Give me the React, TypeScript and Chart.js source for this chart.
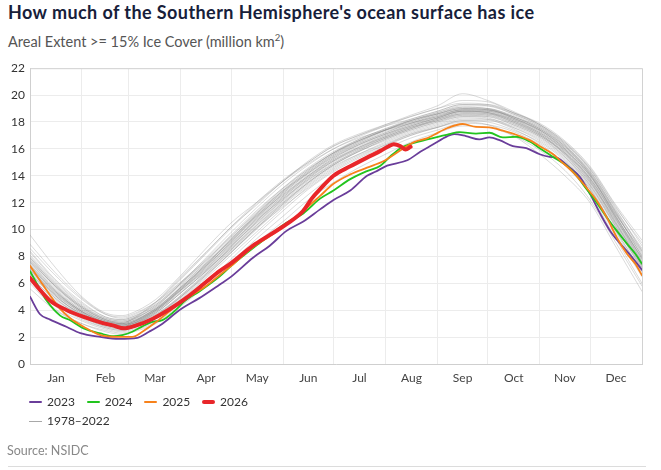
import React, { useEffect, useRef } from "react";
import { Chart, registerables } from "chart.js";

Chart.register(...registerables);

const FONT = "Lato, 'Open Sans', sans-serif";

const MONTHS = ["Jan", "Feb", "Mar", "Apr", "May", "Jun", "Jul", "Aug", "Sep", "Oct", "Nov", "Dec"];
const MONTH_STARTS = [0, 31, 59, 90, 120, 151, 181, 212, 243, 273, 304, 334, 365];
const Y_TICKS = [0, 2, 4, 6, 8, 10, 12, 14, 16, 18, 20, 22];

// Day-of-year sample positions for the historical (1978–2022) lines
const GRAY_DAYS = [0, 15, 31, 45, 55, 59, 75, 90, 105, 120, 135, 151, 166, 181, 196, 212, 227, 243, 258, 273, 288, 304, 319, 334, 349, 365];

const GRAY_YEARS: number[][] = [
  [9.6, 7.2, 5.0, 3.8, 3.6, 3.7, 4.8, 6.6, 8.6, 10.5, 12.0, 13.6, 14.9, 16.0, 16.8, 17.4, 17.9, 18.4, 18.8, 18.7, 18.1, 17.2, 15.9, 14.0, 11.2, 8.3],
  [8.3, 6.2, 4.5, 3.5, 3.3, 3.4, 4.4, 6.0, 7.6, 9.4, 11.0, 12.6, 14.0, 15.2, 16.1, 16.9, 17.6, 18.2, 18.7, 18.6, 18.0, 17.0, 15.6, 13.5, 10.8, 7.9],
  [7.8, 5.8, 4.2, 3.3, 3.1, 3.2, 4.3, 5.9, 7.5, 9.3, 11.1, 12.9, 14.4, 15.7, 16.6, 17.4, 18.0, 18.6, 19.0, 19.0, 18.4, 17.5, 16.2, 14.3, 11.5, 8.6],
  [7.5, 5.6, 4.0, 3.2, 3.0, 3.2, 4.6, 6.5, 8.3, 10.2, 11.8, 13.6, 15.0, 16.2, 17.0, 17.8, 18.5, 19.2, 20.1, 19.6, 18.8, 17.8, 16.4, 14.4, 11.4, 8.0],
  [7.0, 5.2, 3.8, 3.0, 2.8, 2.9, 3.9, 5.4, 7.0, 8.8, 10.6, 12.4, 13.9, 15.1, 16.0, 16.8, 17.5, 18.1, 18.5, 18.4, 17.8, 16.9, 15.4, 13.2, 10.2, 7.1],
  [6.2, 4.3, 3.2, 2.6, 2.4, 2.5, 3.2, 4.5, 6.0, 7.6, 9.3, 11.0, 12.6, 14.0, 15.1, 16.0, 16.8, 17.4, 17.9, 17.8, 17.3, 16.3, 14.8, 12.6, 9.4, 6.0],
  [6.8, 5.0, 3.7, 2.9, 2.7, 2.8, 3.6, 5.1, 6.8, 8.5, 10.2, 12.0, 13.5, 14.8, 15.8, 16.6, 17.3, 17.9, 18.4, 18.3, 17.6, 16.6, 15.2, 13.0, 10.0, 6.8],
  [7.2, 5.4, 3.9, 3.1, 2.9, 3.0, 4.0, 5.6, 7.3, 9.0, 10.8, 12.5, 14.0, 15.3, 16.3, 17.1, 17.8, 18.4, 18.9, 18.8, 18.2, 17.2, 15.8, 13.7, 10.6, 7.4],
  [6.6, 4.7, 3.5, 2.8, 2.6, 2.7, 3.5, 4.9, 6.5, 8.3, 10.0, 11.8, 13.3, 14.6, 15.6, 16.5, 17.2, 17.8, 18.3, 18.2, 17.5, 16.4, 14.9, 12.7, 9.7, 6.5],
  [8.0, 6.0, 4.3, 3.4, 3.2, 3.3, 4.2, 5.7, 7.3, 9.0, 10.7, 12.3, 13.7, 14.9, 15.9, 16.8, 17.5, 18.2, 18.6, 18.5, 17.9, 17.0, 15.7, 13.8, 11.0, 8.1],
  [7.4, 5.5, 4.0, 3.2, 3.0, 3.1, 4.1, 5.8, 7.5, 9.2, 11.0, 12.8, 14.3, 15.6, 16.5, 17.3, 17.9, 18.5, 18.9, 18.9, 18.3, 17.4, 16.0, 13.9, 10.9, 7.6],
  [6.0, 4.1, 3.0, 2.4, 2.2, 2.3, 3.0, 4.3, 5.8, 7.4, 9.0, 10.6, 12.2, 13.5, 14.6, 15.6, 16.5, 17.2, 17.7, 17.6, 17.0, 15.9, 14.4, 12.2, 9.1, 5.8],
  [7.6, 5.7, 4.1, 3.2, 3.0, 3.1, 4.0, 5.5, 7.1, 8.8, 10.5, 12.2, 13.7, 15.0, 16.0, 16.9, 17.6, 18.2, 18.7, 18.7, 18.1, 17.1, 15.7, 13.6, 10.5, 7.3],
  [7.3, 5.3, 3.9, 3.1, 2.9, 3.0, 4.2, 6.0, 7.9, 9.8, 11.6, 13.4, 14.8, 16.0, 16.9, 17.7, 18.4, 19.0, 19.6, 19.5, 18.7, 17.8, 16.5, 14.6, 11.8, 8.8],
  [7.9, 5.9, 4.3, 3.3, 3.0, 3.0, 3.7, 5.0, 6.6, 8.3, 10.1, 11.9, 13.4, 14.7, 15.6, 16.4, 17.1, 17.6, 18.0, 17.8, 17.0, 15.6, 14.0, 12.0, 8.8, 5.4],
  [6.9, 5.1, 3.6, 2.9, 2.7, 2.8, 3.8, 5.3, 6.9, 8.6, 10.4, 12.2, 13.8, 15.1, 16.1, 16.9, 17.6, 18.1, 18.6, 18.6, 18.0, 17.1, 15.6, 13.4, 10.4, 7.2],
  [8.6, 6.6, 4.8, 3.7, 3.5, 3.6, 4.6, 6.1, 7.7, 9.5, 11.2, 12.9, 14.2, 15.4, 16.3, 17.1, 17.7, 18.3, 18.8, 18.7, 18.2, 17.4, 16.1, 14.1, 11.2, 8.4],
  [7.1, 5.3, 3.8, 3.0, 2.8, 2.9, 3.9, 5.5, 7.2, 8.9, 10.7, 12.5, 14.0, 15.3, 16.3, 17.1, 17.8, 18.3, 18.8, 18.8, 18.3, 17.4, 16.0, 14.0, 11.1, 7.8],
  [6.4, 4.6, 3.4, 2.7, 2.5, 2.6, 3.4, 4.8, 6.4, 8.1, 9.8, 11.6, 13.2, 14.5, 15.5, 16.3, 17.0, 17.6, 18.1, 18.0, 17.4, 16.5, 15.1, 13.0, 10.0, 6.9],
  [7.7, 5.8, 4.2, 3.3, 3.1, 3.2, 4.3, 6.0, 7.7, 9.5, 11.3, 13.1, 14.6, 15.8, 16.7, 17.5, 18.1, 18.7, 19.2, 19.2, 18.6, 17.7, 16.3, 14.2, 11.3, 8.2],
  [6.7, 4.9, 3.6, 2.9, 2.7, 2.8, 3.7, 5.1, 6.7, 8.4, 10.1, 11.7, 13.1, 14.4, 15.4, 16.3, 17.1, 17.7, 18.2, 18.2, 17.7, 16.8, 15.4, 13.3, 10.3, 7.0],
  [8.1, 6.1, 4.4, 3.4, 3.2, 3.3, 4.4, 6.1, 7.8, 9.6, 11.4, 13.1, 14.5, 15.7, 16.6, 17.4, 18.0, 18.6, 19.1, 19.0, 18.5, 17.6, 16.3, 14.3, 11.4, 8.5],
  [5.6, 4.0, 3.0, 2.5, 2.3, 2.4, 3.1, 4.4, 6.0, 7.8, 9.6, 11.4, 13.0, 14.3, 15.3, 16.2, 17.0, 17.6, 18.1, 18.1, 17.6, 16.7, 15.3, 13.1, 9.9, 6.6],
  [7.4, 5.4, 3.9, 3.1, 2.9, 3.0, 4.0, 5.6, 7.2, 9.1, 10.9, 12.7, 14.2, 15.5, 16.4, 17.2, 17.9, 18.4, 18.9, 18.9, 18.3, 17.3, 15.9, 13.8, 10.8, 7.5],
  [8.9, 6.8, 4.9, 3.7, 3.4, 3.5, 4.6, 6.4, 8.3, 10.2, 12.0, 13.7, 15.0, 16.2, 17.0, 17.7, 18.2, 18.8, 19.3, 19.2, 18.6, 17.7, 16.4, 14.5, 11.7, 9.0],
  [7.2, 5.1, 3.7, 3.0, 2.8, 2.9, 4.0, 5.7, 7.4, 9.2, 11.0, 12.8, 14.3, 15.6, 16.6, 17.4, 18.1, 18.7, 19.1, 19.0, 18.4, 17.5, 16.1, 14.1, 11.0, 7.7],
  [6.5, 4.8, 3.6, 2.9, 2.7, 2.8, 3.8, 5.3, 6.9, 8.7, 10.5, 12.3, 13.8, 15.1, 16.1, 17.0, 17.7, 18.3, 18.8, 18.8, 18.2, 17.3, 15.9, 13.8, 10.9, 7.6],
  [7.9, 5.9, 4.2, 3.3, 3.1, 3.2, 4.1, 5.5, 7.0, 8.6, 10.3, 12.0, 13.5, 14.8, 15.8, 16.7, 17.4, 18.0, 18.5, 18.5, 17.9, 17.0, 15.6, 13.5, 10.5, 7.4],
  [7.0, 5.1, 3.7, 3.0, 2.8, 2.9, 3.9, 5.5, 7.1, 8.9, 10.8, 12.7, 14.2, 15.5, 16.5, 17.4, 18.1, 18.6, 19.0, 18.9, 18.4, 17.5, 16.2, 14.2, 11.3, 8.0],
  [7.6, 5.5, 3.9, 3.1, 2.9, 3.0, 4.0, 5.6, 7.3, 9.1, 10.9, 12.6, 14.1, 15.4, 16.4, 17.2, 17.9, 18.5, 18.9, 18.9, 18.3, 17.4, 16.0, 14.0, 11.0, 7.9],
  [6.3, 4.5, 3.3, 2.7, 2.5, 2.6, 3.5, 5.0, 6.7, 8.5, 10.3, 12.1, 13.6, 14.9, 15.9, 16.8, 17.5, 18.1, 18.6, 18.6, 18.0, 17.1, 15.7, 13.6, 10.6, 7.3],
  [8.4, 6.3, 4.6, 3.5, 3.3, 3.4, 4.5, 6.3, 8.2, 10.1, 11.9, 13.6, 15.1, 16.3, 17.1, 17.8, 18.4, 19.0, 19.4, 19.3, 18.7, 17.9, 16.6, 14.7, 11.9, 9.2],
  [7.3, 5.4, 3.9, 3.1, 2.9, 3.0, 4.1, 5.7, 7.4, 9.2, 11.1, 12.9, 14.4, 15.7, 16.6, 17.4, 18.1, 18.6, 19.0, 18.9, 18.4, 17.6, 16.2, 14.1, 11.1, 7.8],
  [6.8, 4.9, 3.5, 2.8, 2.6, 2.7, 3.6, 5.0, 6.6, 8.3, 10.1, 11.9, 13.5, 14.8, 15.8, 16.7, 17.4, 18.0, 18.4, 18.4, 17.8, 16.9, 15.5, 13.3, 10.3, 7.2],
  [7.7, 5.8, 4.1, 3.2, 3.0, 3.1, 4.1, 5.7, 7.4, 9.3, 11.2, 13.0, 14.5, 15.7, 16.7, 17.5, 18.2, 18.8, 19.3, 19.3, 18.7, 17.8, 16.5, 14.5, 11.6, 8.4],
  [7.1, 5.2, 3.8, 3.0, 2.8, 2.9, 3.8, 5.3, 6.9, 8.7, 10.6, 12.4, 13.9, 15.2, 16.2, 17.0, 17.7, 18.3, 18.8, 18.7, 18.1, 17.2, 15.8, 13.7, 10.7, 7.5],
];

const D2023 = [0, 6, 12, 22, 30, 42, 53, 64, 71, 79, 89, 101, 113, 120, 133, 143, 153, 163, 173, 181, 191, 201, 206, 213, 225, 233, 240, 249, 253, 260, 268, 274, 280, 288, 296, 304, 310, 314, 322, 328, 334, 340, 346, 352, 358, 365];
const V2023 = [5.0, 3.7, 3.3, 2.75, 2.3, 2.02, 1.87, 1.95, 2.4, 3.0, 4.0, 4.9, 5.9, 6.5, 7.9, 8.8, 9.9, 10.6, 11.5, 12.2, 12.9, 14.0, 14.3, 14.75, 15.15, 15.8, 16.3, 16.95, 17.1, 16.95, 16.7, 16.85, 16.65, 16.2, 16.05, 15.6, 15.4, 15.35, 14.6, 13.9, 12.65, 11.2, 9.9, 8.95, 8.1, 7.0];

const D2024 = [0, 4, 10, 18, 24, 32, 42, 50, 55, 61, 67, 73, 79, 85, 93, 101, 113, 120, 137, 153, 163, 173, 181, 191, 201, 209, 215, 221, 229, 237, 245, 250, 256, 266, 274, 282, 290, 298, 304, 312, 320, 326, 332, 338, 344, 350, 356, 361, 365];
const V2024 = [6.9, 6.0, 4.7, 3.6, 3.25, 2.65, 2.27, 2.07, 2.15, 2.4, 2.8, 3.13, 3.26, 3.8, 4.75, 5.4, 6.5, 7.3, 9.0, 10.5, 11.2, 12.3, 12.9, 13.75, 14.35, 14.75, 15.45, 16.05, 16.45, 16.7, 16.95, 17.1, 17.25, 17.13, 17.2, 16.85, 16.9, 16.55, 16.05, 15.4, 14.75, 14.0, 13.0, 12.0, 10.9, 9.9, 8.95, 8.2, 7.45];

const D2025 = [0, 6, 12, 18, 24, 32, 42, 52, 61, 67, 75, 85, 95, 105, 113, 120, 133, 143, 153, 163, 173, 181, 191, 201, 211, 221, 229, 237, 241, 249, 258, 266, 274, 282, 290, 298, 304, 312, 316, 324, 332, 338, 344, 350, 356, 361, 365];
const V2025 = [7.3, 6.2, 5.1, 4.1, 3.4, 2.77, 2.15, 2.02, 2.02, 2.4, 3.1, 4.1, 5.0, 5.8, 6.6, 7.3, 8.7, 9.5, 10.4, 11.4, 12.5, 13.4, 14.1, 14.6, 15.1, 15.9, 16.5, 16.8, 17.05, 17.55, 17.85, 17.63, 17.6, 17.35, 17.05, 16.65, 16.2, 15.6, 15.15, 14.25, 13.1, 12.15, 10.9, 9.4, 8.2, 7.45, 6.6];

const D2026 = [0, 6, 12, 22, 32, 42, 50, 56, 63, 73, 83, 93, 105, 113, 120, 133, 143, 153, 163, 168, 173, 181, 191, 201, 209, 214, 217, 221, 224, 227];
const V2026 = [6.4, 5.5, 4.7, 4.0, 3.5, 3.1, 2.85, 2.65, 2.85, 3.35, 4.05, 4.9, 6.1, 6.9, 7.5, 8.8, 9.6, 10.4, 11.4, 12.3, 13.0, 14.0, 14.7, 15.35, 15.85, 16.2, 16.35, 16.2, 15.95, 16.15];

const C2023 = "#6a3d9a";
const C2024 = "#22c41e";
const C2025 = "#f7821b";
const C2026 = "#e8262a";
const CGRAY = "rgba(140,140,140,0.32)";

const LEGEND = [
  { label: "2023", color: C2023, width: 2 },
  { label: "2024", color: C2024, width: 2 },
  { label: "2025", color: C2025, width: 2 },
  { label: "2026", color: C2026, width: 4 },
];

const pts = (days: number[], vals: number[]) => days.map((d, i) => ({ x: d, y: vals[i] }));

const framePlugin = {
  id: "frame",
  beforeDatasetsDraw(chart: any) {
    const { ctx, chartArea } = chart;
    ctx.save();
    ctx.strokeStyle = "#d2d2d2";
    ctx.lineWidth = 1;
    ctx.beginPath();
    ctx.moveTo(chartArea.left, chartArea.top + 0.5);
    ctx.lineTo(chartArea.right + 0.5, chartArea.top + 0.5);
    ctx.lineTo(chartArea.right + 0.5, chartArea.bottom);
    ctx.stroke();
    ctx.restore();
  },
};

export default function App() {
  const ref = useRef<HTMLCanvasElement>(null);

  useEffect(() => {
    if (!ref.current) return;
    const colored = [
      { label: "2026", data: pts(D2026, V2026), borderColor: C2026, borderWidth: 4 },
      { label: "2025", data: pts(D2025, V2025), borderColor: C2025, borderWidth: 1.8 },
      { label: "2024", data: pts(D2024, V2024), borderColor: C2024, borderWidth: 1.8 },
      { label: "2023", data: pts(D2023, V2023), borderColor: C2023, borderWidth: 1.8 },
    ];
    const gray = GRAY_YEARS.map((vals, i) => ({
      label: "hist" + i,
      data: pts(GRAY_DAYS, vals),
      borderColor: CGRAY,
      borderWidth: 1,
    }));
    const chart = new Chart(ref.current, {
      type: "line",
      data: {
        datasets: [...colored, ...gray].map((d) => ({
          ...d,
          pointRadius: 0,
          fill: false,
          cubicInterpolationMode: "monotone" as const,
          borderCapStyle: "round" as const,
          borderJoinStyle: "round" as const,
        })),
      },
      options: {
        responsive: false,
        animation: false,
        layout: { padding: { top: 11, right: 19, left: 0, bottom: 0 } },
        plugins: { legend: { display: false }, tooltip: { enabled: false } },
        scales: {
          x: {
            type: "linear",
            min: 0,
            max: 365,
            afterBuildTicks: (scale: any) => {
              const t: any[] = [];
              MONTH_STARTS.forEach((s, i) => {
                t.push({ value: s });
                if (i < 12) t.push({ value: (s + MONTH_STARTS[i + 1]) / 2 });
              });
              scale.ticks = t;
            },
            afterFit: (scale: any) => {
              scale.height = 32;
            },
            ticks: {
              autoSkip: false,
              maxRotation: 0,
              padding: 7,
              color: "#444",
              font: { family: FONT, size: 12 },
              callback: (_v: any, index: number) => (index % 2 === 1 ? MONTHS[(index - 1) / 2] : ""),
            },
            grid: {
              drawTicks: false,
              color: (c: any) => (c.index % 2 === 1 ? "rgba(0,0,0,0)" : "#ececec"),
            },
            border: { color: "#cfcfcf" },
          },
          y: {
            min: 0,
            max: 22,
            afterBuildTicks: (scale: any) => {
              scale.ticks = Y_TICKS.map((v) => ({ value: v }));
            },
            afterFit: (scale: any) => {
              scale.width = 30;
            },
            ticks: {
              padding: 5,
              color: "#333",
              font: { family: FONT, size: 12 },
            },
            grid: { drawTicks: false, color: "#ececec" },
            border: { color: "#cfcfcf" },
          },
        },
      },
      plugins: [framePlugin],
    });
    return () => chart.destroy();
  }, []);

  return (
    <div style={{ position: "absolute", left: 0, top: 0, width: 661, height: 470, fontFamily: FONT, background: "#fff" }}>
      <div style={{ position: "absolute", left: 8, top: 1, fontSize: 18, fontWeight: 700, color: "#17203a", lineHeight: "22px", letterSpacing: 0.42, whiteSpace: "nowrap" }}>
        How much of the Southern Hemisphere's ocean surface has ice
      </div>
      <div style={{ position: "absolute", left: 8, top: 33, fontSize: 14.5, color: "#555", lineHeight: "18px", whiteSpace: "nowrap" }}>
        Areal Extent &gt;= 15% Ice Cover (million km<sup style={{ fontSize: 9.5, lineHeight: 0 }}>2</sup>)
      </div>
      <canvas ref={ref} width={661} height={340} style={{ position: "absolute", left: 0, top: 56, width: 661, height: 340 }} />
      <div style={{ position: "absolute", left: 29, top: 394, display: "flex", fontSize: 12, color: "#333", lineHeight: "16px" }}>
        {LEGEND.map((l) => (
          <div key={l.label} style={{ width: 57.7, display: "flex", alignItems: "center" }}>
            <span style={{ display: "inline-block", width: 13, height: l.width, background: l.color, borderRadius: l.width / 2, marginRight: 5 }} />
            <span>{l.label}</span>
          </div>
        ))}
      </div>
      <div style={{ position: "absolute", left: 29, top: 413, display: "flex", alignItems: "center", fontSize: 12, color: "#333", lineHeight: "16px" }}>
        <span style={{ display: "inline-block", width: 13, height: 1, background: "#a8a8a8", marginRight: 5 }} />
        <span>1978–2022</span>
      </div>
      <div style={{ position: "absolute", left: 7, top: 443, fontSize: 12.5, color: "#888", lineHeight: "16px" }}>Source: NSIDC</div>
      <div style={{ position: "absolute", left: 8, top: 466, width: 638, height: 1, background: "#dcdcdc" }} />
    </div>
  );
}
